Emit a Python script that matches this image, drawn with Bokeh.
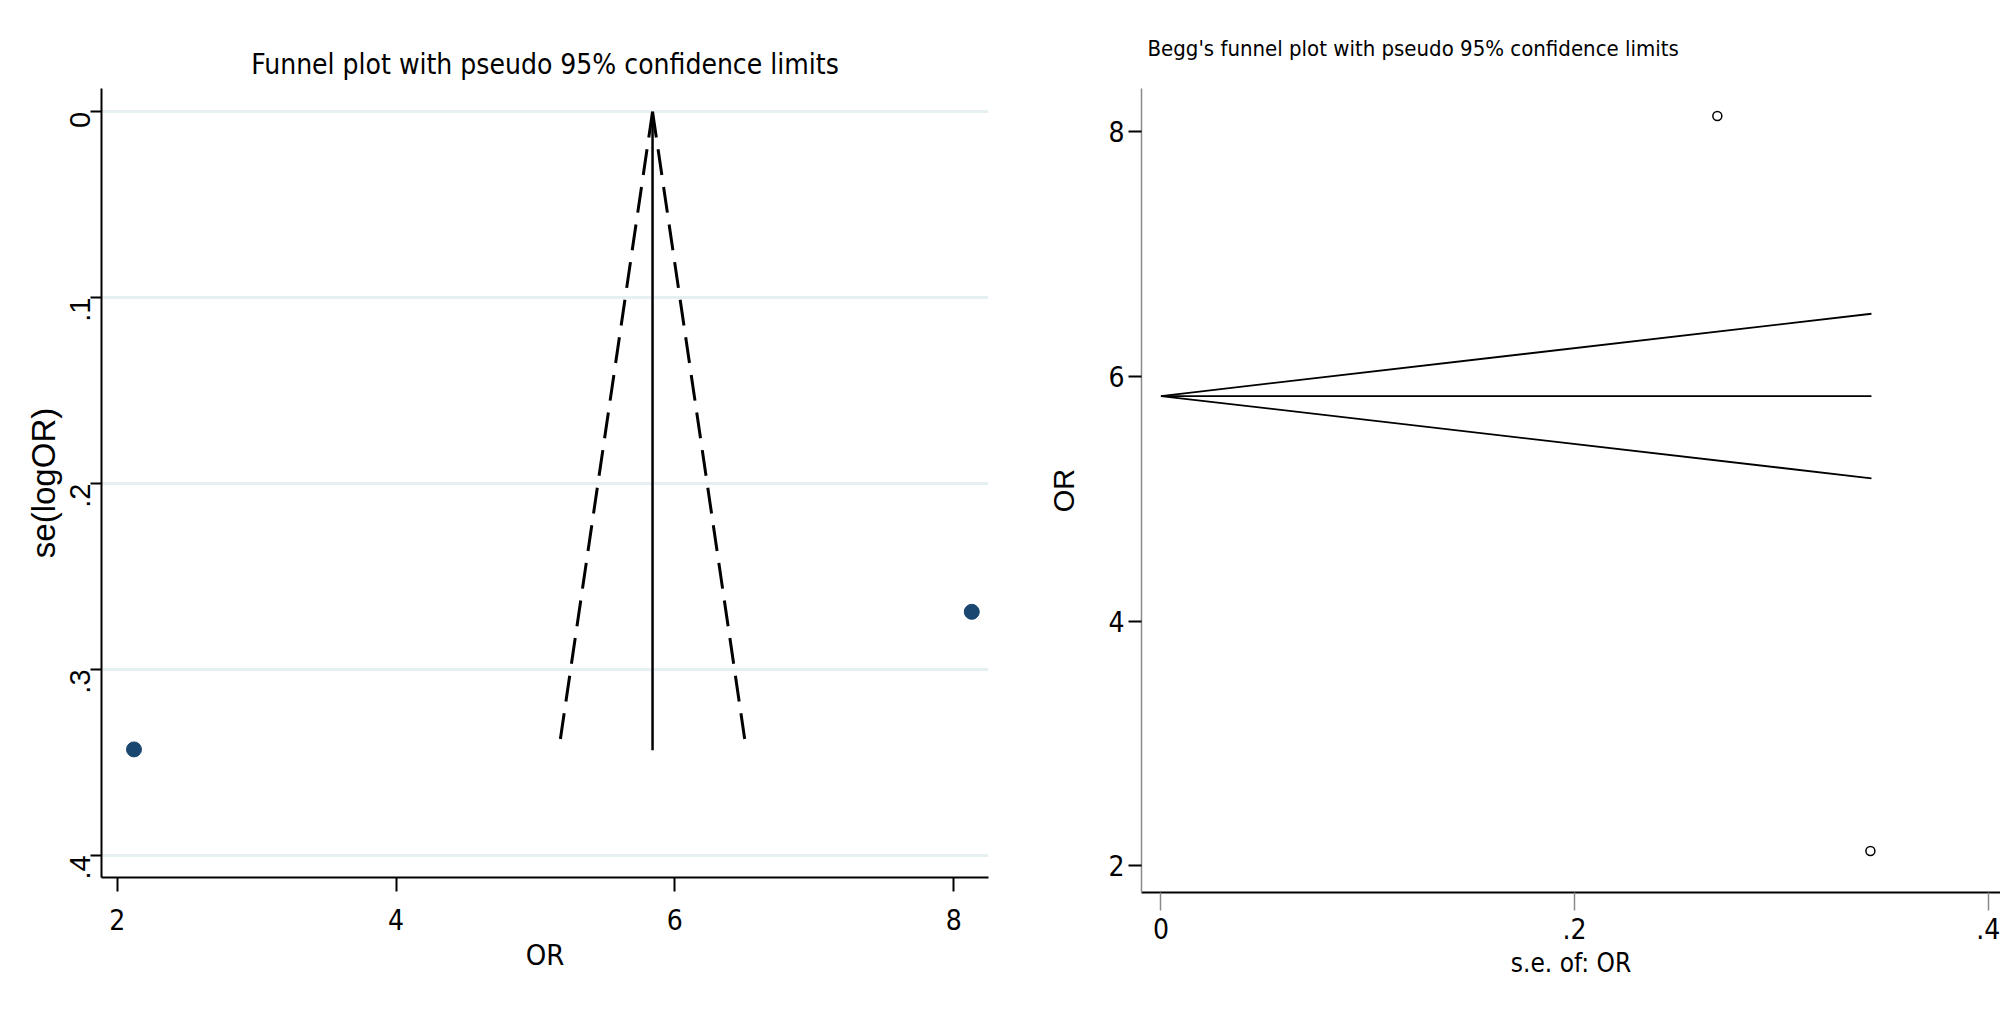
import math
from bokeh.plotting import figure
from bokeh.layouts import row
from bokeh.models import Range1d, FixedTicker, CustomJSTickFormatter, BoxAnnotation
from bokeh.embed import file_html
from bokeh.resources import INLINE

# ---- data ----
study_or = [2.12, 8.13]
study_se = [0.343, 0.269]
funnel_se = [0.0, 0.3435]
funnel_lower = [5.84, 5.167]
funnel_upper = [5.84, 6.513]
pooled_line_or = [5.84, 5.84]
pooled_line_se = [0.0, 0.3435]

left_yticks = [0, 0.1, 0.2, 0.3, 0.4]
left_xticks = [2, 4, 6, 8]
right_yticks = [2, 4, 6, 8]
right_xticks = [0, 0.2, 0.4]

NARROW = "DejaVu Sans Condensed, Liberation Sans, sans-serif"
SANS = "Liberation Sans, Arial, sans-serif"

fmt_code = """
if (Math.abs(tick) < 1e-9) return '0';
var s = (Math.round(tick*10)/10).toString();
return s.replace(/^0\\./, '.');
"""

# ---- left panel: funnel plot ----
p1 = figure(frame_width=887, frame_height=789,
            min_border_left=101, min_border_right=27,
            min_border_top=88, min_border_bottom=131,
            x_range=Range1d(1.887, 8.25), y_range=Range1d(0.4119, -0.0125),
            output_backend="svg", toolbar_location=None,
            title="Funnel plot with pseudo 95% confidence limits")
p1.outline_line_color = None
p1.background_fill_color = "white"
p1.border_fill_color = "white"
p1.title.align = "center"
p1.title.text_font = NARROW
p1.title.text_font_size = "28px"
p1.title.text_font_style = "normal"
p1.title.text_color = "black"
p1.title.standoff = 15

p1.xgrid.visible = False
p1.ygrid.grid_line_color = "#e6eff1"
p1.ygrid.grid_line_width = 3
p1.ygrid.ticker = FixedTicker(ticks=left_yticks)

xa = p1.xaxis[0]
xa.ticker = FixedTicker(ticks=left_xticks)
xa.formatter = CustomJSTickFormatter(code=fmt_code)
xa.axis_line_width = 2
xa.axis_line_color = "black"
xa.major_tick_line_width = 2
xa.major_tick_line_color = "black"
xa.major_tick_out = 14
xa.major_tick_in = 0
xa.minor_tick_line_color = None
xa.major_label_standoff = 17
xa.major_label_text_font = NARROW
xa.major_label_text_font_size = "28px"
xa.major_label_text_color = "black"
xa.axis_label = "OR"
xa.axis_label_text_font = NARROW
xa.axis_label_text_font_size = "29px"
xa.axis_label_text_font_style = "normal"
xa.axis_label_text_color = "black"
xa.axis_label_standoff = 5

ya = p1.yaxis[0]
ya.ticker = FixedTicker(ticks=left_yticks)
ya.formatter = CustomJSTickFormatter(code=fmt_code)
ya.major_label_orientation = math.pi / 2
ya.axis_line_width = 2
ya.axis_line_color = "black"
ya.major_tick_line_width = 2
ya.major_tick_line_color = "black"
ya.major_tick_out = 11
ya.major_tick_in = 0
ya.minor_tick_line_color = None
ya.major_label_standoff = 10
ya.major_label_text_font = SANS
ya.major_label_text_font_size = "29px"
ya.major_label_text_color = "black"
ya.axis_label = "se(logOR)"
ya.axis_label_text_font = SANS
ya.axis_label_text_font_size = "33px"
ya.axis_label_text_font_style = "normal"
ya.axis_label_text_color = "black"
ya.axis_label_standoff = -4

p1.line(funnel_lower, funnel_se, line_color="black", line_width=3, line_dash="26 12")
p1.line(funnel_upper, funnel_se, line_color="black", line_width=3, line_dash="26 12")
p1.line(pooled_line_or, pooled_line_se, line_color="black", line_width=2.5)
p1.scatter(study_or, study_se, size=15, fill_color="#1a476f", line_color="#1a476f")

frame_box = BoxAnnotation(left=1.5, right=1013.5, top=1.5, bottom=1006.5,
                          left_units="canvas", right_units="canvas",
                          top_units="canvas", bottom_units="canvas",
                          fill_alpha=0, line_color="#e6eff1", line_width=3,
                          level="overlay")
p1.add_layout(frame_box)

# ---- right panel: Begg's funnel plot ----
p2 = figure(frame_width=859, frame_height=804,
            min_border_left=126, min_border_right=0,
            min_border_top=88, min_border_bottom=116,
            x_range=Range1d(-0.0094, 0.4059), y_range=Range1d(1.780, 8.355),
            output_backend="svg", toolbar_location=None,
            title="Begg's funnel plot with pseudo 95% confidence limits")
p2.outline_line_color = None
p2.background_fill_color = "white"
p2.border_fill_color = "white"
p2.title.align = "left"
p2.title.offset = 6
p2.title.text_font = NARROW
p2.title.text_font_size = "22px"
p2.title.text_font_style = "normal"
p2.title.text_color = "black"
p2.title.standoff = 55
p2.grid.visible = False

xb = p2.xaxis[0]
xb.ticker = FixedTicker(ticks=right_xticks)
xb.formatter = CustomJSTickFormatter(code=fmt_code)
xb.axis_line_width = 2
xb.axis_line_color = "black"
xb.major_tick_line_width = 1.5
xb.major_tick_line_color = "#8a8a8a"
xb.major_tick_out = 18
xb.major_tick_in = 0
xb.minor_tick_line_color = None
xb.major_label_standoff = 7
xb.major_label_text_font = NARROW
xb.major_label_text_font_size = "28px"
xb.major_label_text_color = "black"
xb.axis_label = "s.e. of: OR"
xb.axis_label_text_font = NARROW
xb.axis_label_text_font_size = "26px"
xb.axis_label_text_font_style = "normal"
xb.axis_label_text_color = "black"
xb.axis_label_standoff = 6

yb = p2.yaxis[0]
yb.ticker = FixedTicker(ticks=right_yticks)
yb.formatter = CustomJSTickFormatter(code=fmt_code)
yb.axis_line_width = 1.5
yb.axis_line_color = "#8a8a8a"
yb.major_tick_line_width = 2
yb.major_tick_line_color = "black"
yb.major_tick_out = 13
yb.major_tick_in = 0
yb.minor_tick_line_color = None
yb.major_label_standoff = 4
yb.major_label_text_font = NARROW
yb.major_label_text_font_size = "28px"
yb.major_label_text_color = "black"
yb.axis_label = "OR"
yb.axis_label_text_font = SANS
yb.axis_label_text_font_size = "29px"
yb.axis_label_text_font_style = "normal"
yb.axis_label_text_color = "black"
yb.axis_label_standoff = 25

p2.line(funnel_se, funnel_upper, line_color="black", line_width=1.8)
p2.line(funnel_se, funnel_lower, line_color="black", line_width=1.8)
p2.line(pooled_line_se, pooled_line_or, line_color="black", line_width=1.8)
p2.scatter(study_se, study_or, size=9, marker="circle", fill_color=None,
           line_color="black", line_width=1.5)

layout = row(p1, p2)
open("out.html", "w").write(file_html(layout, INLINE))
